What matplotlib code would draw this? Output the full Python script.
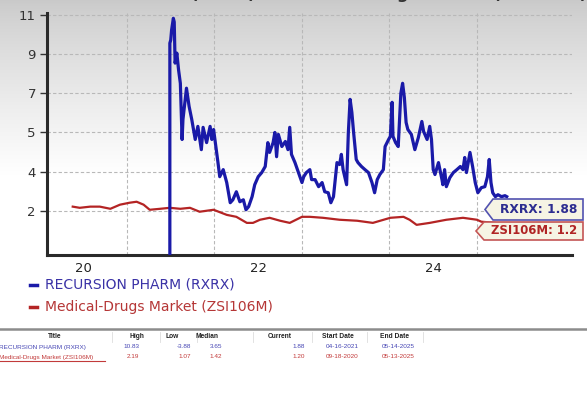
import numpy as np
import matplotlib
matplotlib.use("Agg")
import matplotlib.pyplot as plt
from matplotlib.patches import Polygon
from matplotlib.lines import Line2D

# ---------------- data ----------------
title_text = "RECURSION PHARM (RXRX) vs Medical-Drugs Market (ZSI106M)"
series_names = ["RECURSION PHARM (RXRX)", "Medical-Drugs Market (ZSI106M)"]

rxrx_t = [2021.49, 2021.49, 2021.50, 2021.51, 2021.53, 2021.54, 2021.55, 2021.57, 2021.59, 2021.61,
          2021.63, 2021.64, 2021.68, 2021.71, 2021.74, 2021.78, 2021.81, 2021.85, 2021.87, 2021.91,
          2021.95, 2021.97, 2021.99, 2022.04, 2022.06, 2022.10, 2022.14, 2022.18, 2022.21, 2022.25,
          2022.29, 2022.33, 2022.36, 2022.39, 2022.43, 2022.46, 2022.50, 2022.54, 2022.58, 2022.61,
          2022.63, 2022.67, 2022.69, 2022.71, 2022.73, 2022.77, 2022.81, 2022.84, 2022.86, 2022.88,
          2022.92, 2022.96, 2023.00, 2023.02, 2023.05, 2023.09, 2023.11, 2023.15, 2023.19, 2023.23,
          2023.26, 2023.30, 2023.33, 2023.36, 2023.40, 2023.43, 2023.45, 2023.47, 2023.51, 2023.53,
          2023.55, 2023.57, 2023.59, 2023.62, 2023.64, 2023.68, 2023.72, 2023.76, 2023.80, 2023.83,
          2023.86, 2023.89, 2023.93, 2023.95, 2023.99, 2024.01, 2024.03, 2024.04, 2024.07, 2024.10,
          2024.13, 2024.15, 2024.17, 2024.19, 2024.21, 2024.25, 2024.29, 2024.33, 2024.37, 2024.39,
          2024.43, 2024.46, 2024.48, 2024.50, 2024.52, 2024.56, 2024.60, 2024.61, 2024.63, 2024.65,
          2024.69, 2024.73, 2024.77, 2024.81, 2024.84, 2024.86, 2024.88, 2024.92, 2024.95, 2024.98,
          2025.01, 2025.05, 2025.09, 2025.12, 2025.14, 2025.16, 2025.18, 2025.21, 2025.24, 2025.28,
          2025.32, 2025.34]
rxrx_v = [-3.88, 9.56, 9.72, 10.23, 10.83, 10.64, 8.54, 9.05, 8.18, 7.51,
          4.82, 5.67, 7.26, 6.33, 5.67, 4.82, 5.31, 4.56, 5.26, 4.74,
          5.31, 4.82, 5.15, 4.23, 3.74, 4.05, 3.44, 2.41, 2.56, 2.97,
          2.46, 2.56, 2.05, 2.21, 2.72, 3.33, 3.74, 3.95, 4.13, 4.74,
          4.49, 4.74, 5.00, 4.38, 4.95, 4.64, 4.77, 4.56, 5.26, 4.44,
          4.23, 3.95, 3.44, 3.74, 3.95, 4.05, 3.59, 3.59, 3.23, 3.44,
          2.97, 2.92, 2.41, 2.72, 4.23, 4.18, 4.44, 4.05, 3.33, 5.00,
          6.69, 6.03, 5.00, 4.31, 4.23, 4.13, 4.05, 3.95, 3.44, 2.92,
          3.59, 3.85, 4.05, 4.64, 4.82, 4.90, 6.54, 4.90, 4.74, 4.64,
          7.00, 7.51, 6.79, 5.51, 5.15, 4.95, 4.56, 4.87, 5.56, 5.05,
          4.82, 5.31, 4.82, 4.05, 3.85, 4.23, 3.59, 3.33, 4.05, 3.23,
          3.69, 3.95, 4.05, 4.13, 4.05, 4.36, 3.95, 4.49, 4.13, 3.44,
          2.92, 3.18, 3.23, 3.74, 4.31, 3.44, 2.92, 2.72, 2.82, 2.72,
          2.77, 2.72]

zsi_t = [2020.38, 2020.46, 2020.58, 2020.69, 2020.81, 2020.92, 2021.03, 2021.11, 2021.19, 2021.26,
         2021.38, 2021.49, 2021.61, 2021.72, 2021.83, 2021.99, 2022.14, 2022.25, 2022.37, 2022.44,
         2022.52, 2022.63, 2022.75, 2022.86, 2023.00, 2023.09, 2023.24, 2023.43, 2023.63, 2023.81,
         2024.01, 2024.16, 2024.23, 2024.31, 2024.46, 2024.65, 2024.84, 2025.00, 2025.05, 2025.21,
         2025.35]
zsi_v = [2.21, 2.15, 2.21, 2.21, 2.10, 2.31, 2.41, 2.46, 2.31, 2.05,
         2.10, 2.15, 2.10, 2.15, 1.95, 2.05, 1.79, 1.69, 1.38, 1.38,
         1.54, 1.64, 1.49, 1.38, 1.69, 1.69, 1.64, 1.54, 1.49, 1.38,
         1.64, 1.69, 1.54, 1.28, 1.38, 1.54, 1.64, 1.54, 1.44, 1.38,
         1.20]

y_ticks = [2, 4, 5, 7, 9, 11]
x_label_pos = [2020.5, 2022.5, 2024.5]
x_labels = ["20", "22", "24"]
x_grid_years = [2021, 2022, 2023, 2024, 2025]

last_labels = ["RXRX: 1.88", "ZSI106M: 1.2"]

table_header = ["Title", "High", "Low", "Median", "Current", "Start Date", "End Date"]
table_rows = [
    ["RECURSION PHARM (RXRX)", "10.83", "-3.88", "3.65", "1.88", "04-16-2021", "05-14-2025"],
    ["Medical-Drugs Market (ZSI106M)", "2.19", "1.07", "1.42", "1.20", "09-18-2020", "05-13-2025"],
]

# ---------------- figure ----------------
W, H = 587, 397
fig = plt.figure(figsize=(W / 100, H / 100), dpi=100)
fig.patch.set_facecolor("white")


def fx(x):
    return x / W


def fy(y):
    return 1 - y / H


# background gradient
bg = fig.add_axes([0, 0, 1, 1], zorder=-10)
rows = np.arange(H)
g = 0.79 + 0.21 * np.clip(rows / 175.0, 0, 1) ** 0.8
img = np.dstack([g, g, g]).reshape(H, 1, 3)
bg.imshow(img, aspect="auto", extent=[0, 1, 0, 1], interpolation="bilinear")
bg.set_xlim(0, 1)
bg.set_ylim(0, 1)
bg.axis("off")

# y scale: evenly spaced tick labels
knots_v = [-100] + y_ticks + [111]
knots_p = [-51] + list(range(len(y_ticks))) + [55]


def fwd(v):
    return np.interp(v, knots_v, knots_p)


def inv(p):
    return np.interp(p, knots_p, knots_v)


ax = fig.add_axes([fx(47), fy(255), fx(572) - fx(47), fy(13) - fy(255)])
ax.set_facecolor("none")
ax.set_yscale("function", functions=(fwd, inv))

ax.plot(zsi_t, zsi_v, color="#b42424", lw=1.6, zorder=3)
ax.plot(rxrx_t, rxrx_v, color="#1a1aa8", lw=2.3, zorder=4)

ax.set_xlim(2020.086, 2026.086)
ax.set_ylim(-0.26, 11.1)

ax.set_yticks(y_ticks)
ax.set_yticklabels([str(t) for t in y_ticks])
ax.set_xticks(x_label_pos)
ax.set_xticklabels(x_labels)
ax.set_xticks(x_grid_years, minor=True)
ax.yaxis.set_minor_locator(matplotlib.ticker.NullLocator())

ax.grid(axis="y", which="major", ls=(0, (3, 2)), color="#b8b8b8", lw=0.8)
ax.grid(axis="x", which="minor", ls=(0, (3, 2)), color="#b8b8b8", lw=0.8)
ax.tick_params(axis="x", which="both", length=0, pad=5, labelsize=9.5, colors="#222222")
ax.tick_params(axis="y", which="major", length=5, width=1, pad=3, labelsize=9.5,
               colors="#333333", direction="out")
for s in ["top", "right"]:
    ax.spines[s].set_visible(False)
for s in ["left", "bottom"]:
    ax.spines[s].set_linewidth(2.2)
    ax.spines[s].set_color("#2a2a2a")
ax.set_axisbelow(True)

# title, clipped at the very top as in the reference
fig.text(fx(298), fy(-1), title_text, ha="center", va="baseline", fontsize=11.6,
         fontweight="bold", color="#333333")

# last value boxes
def value_box(x0, x1, y0, y1, edge, text, tcolor, fs):
    ym = (y0 + y1) / 2
    pts = [(x0, ym), (x0 + 8, y0), (x1, y0), (x1, y1), (x0 + 8, y1)]
    poly = Polygon([(fx(a), fy(b)) for a, b in pts], closed=True,
                   transform=fig.transFigure, facecolor="#f6f4e4",
                   edgecolor=edge, lw=1.2, zorder=20)
    fig.add_artist(poly)
    fig.text(fx((x0 + 8 + x1) / 2 + 1), fy(ym), text, ha="center", va="center",
             fontsize=fs, fontweight="bold", color=tcolor, zorder=21)


value_box(485, 583, 199, 220, "#5252b0", last_labels[0], "#2c2c90", 8.8)
value_box(476, 583, 222, 240, "#c45555", last_labels[1], "#b02424", 8.4)

# legend
leg_colors = ["#1a1aa8", "#b42424"]
leg_tcolors = ["#3a32a6", "#b53636"]
for i, (name, c, tc) in enumerate(zip(series_names, leg_colors, leg_tcolors)):
    y = 285 + 22 * i
    fig.add_artist(Line2D([fx(30), fx(37)], [fy(y), fy(y)], transform=fig.transFigure,
                          color=c, lw=2.5))
    fig.text(fx(45), fy(y), name, ha="left", va="center", fontsize=10, color=tc)

# separator
fig.add_artist(Line2D([0, 1], [fy(329), fy(329)], transform=fig.transFigure,
                      color="#8c8c8c", lw=1.8))

# table
tfont = "Liberation Sans"
head_x = [55, 137, 172, 207, 280, 338, 394]
for hx, h in zip(head_x, table_header):
    fig.text(fx(hx), fy(337), h, ha="center", va="center", fontsize=4.8,
             fontweight="bold", color="#222222", family=tfont)
for sx in [112, 160, 197, 253, 312, 367, 423]:
    fig.add_artist(Line2D([fx(sx), fx(sx)], [fy(332), fy(342)], transform=fig.transFigure,
                          color="#dddddd", lw=0.6))
val_right = [139, 191, 222, 305]
row_colors = ["#4646b4", "#c23a3a"]
for r, (row, rc) in enumerate(zip(table_rows, row_colors)):
    y = 347 + 10 * r
    fig.text(fx(-1), fy(y), row[0], ha="left", va="center", fontsize=4.6, color=rc,
             family=tfont)
    for vx, v in zip(val_right, row[1:5]):
        fig.text(fx(vx), fy(y), v, ha="right", va="center", fontsize=4.6, color=rc,
                 family=tfont)
    fig.text(fx(342), fy(y), row[5], ha="center", va="center", fontsize=4.6, color=rc,
             family=tfont)
    fig.text(fx(398), fy(y), row[6], ha="center", va="center", fontsize=4.6, color=rc,
             family=tfont)
fig.add_artist(Line2D([fx(0), fx(105)], [fy(361), fy(361)], transform=fig.transFigure,
                      color="#c23a3a", lw=0.8))

fig.savefig("out.png", dpi=100, facecolor=fig.get_facecolor())
